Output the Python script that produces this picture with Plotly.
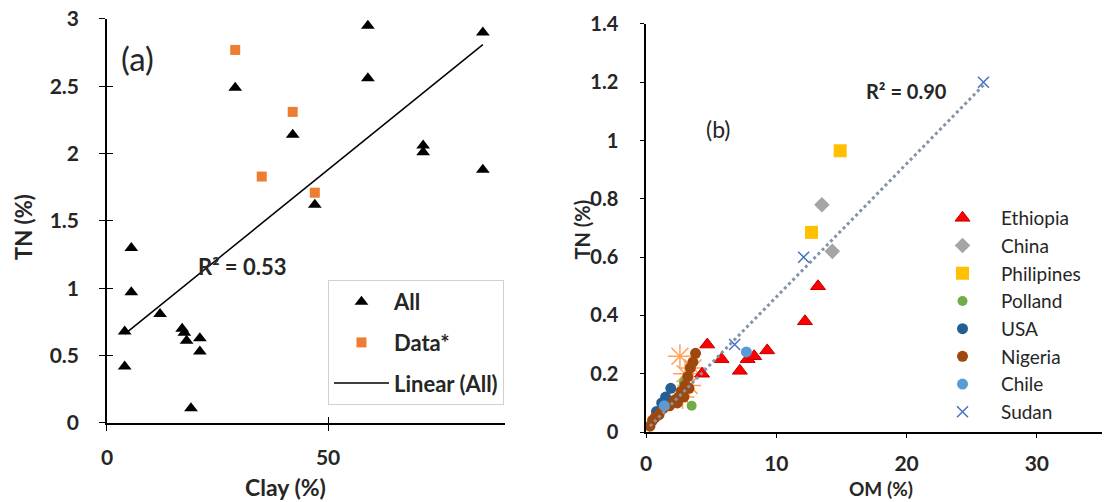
import plotly.graph_objects as go

# ---------------- Panel (a) data ----------------
all_clay = [4, 4, 5.5, 5.5, 12, 17, 17.5, 18, 21, 21, 19, 29, 42, 47, 59, 59, 71.5, 71.5, 85, 85]
all_tn = [0.68, 0.42, 1.30, 0.97, 0.81, 0.70, 0.67, 0.61, 0.63, 0.53, 0.11, 2.49, 2.14, 1.62, 2.95, 2.56, 2.06, 2.01, 2.90, 1.88]
star_clay = [29, 42, 35, 47]
star_tn = [2.77, 2.31, 1.83, 1.71]
fit_a_x = [4, 85]
fit_a_y = [0.66, 2.81]
r2_a = "R² = 0.53"

# ---------------- Panel (b) data ----------------
eth_om = [4.3, 4.7, 5.8, 7.2, 7.8, 8.3, 9.3, 12.2, 13.2]
eth_tn = [0.20, 0.30, 0.25, 0.21, 0.25, 0.26, 0.28, 0.38, 0.50]
chn_om = [13.5, 14.3]
chn_tn = [0.78, 0.62]
phl_om = [12.7, 14.9]
phl_tn = [0.685, 0.965]
pol_om = [2.9, 3.4, 3.5]
pol_tn = [0.17, 0.22, 0.09]
usa_om = [0.8, 1.2, 1.5, 1.9]
usa_tn = [0.07, 0.10, 0.12, 0.15]
nga_om = [0.3, 0.5, 0.7, 1.0, 1.3, 1.8, 2.2, 2.5, 2.7, 3.0, 3.2, 3.4, 3.6, 3.8, 2.4, 2.9, 3.3]
nga_tn = [0.02, 0.04, 0.05, 0.06, 0.08, 0.09, 0.11, 0.12, 0.14, 0.16, 0.19, 0.22, 0.24, 0.27, 0.10, 0.12, 0.15]
chl_om = [1.4, 7.7]
chl_tn = [0.09, 0.275]
sdn_om = [6.8, 12.1, 25.9]
sdn_tn = [0.30, 0.60, 1.20]
oth_om = [2.6, 3.0, 3.3, 2.8, 3.6]
oth_tn = [0.26, 0.20, 0.16, 0.12, 0.22]
fit_b_x = [0.3, 25.9]
fit_b_y = [0.02, 1.19]
r2_b = "R² = 0.90"

FONT = "Lato"
TXT = "#262626"

fig = go.Figure()

# panel (a)
fig.add_trace(go.Scatter(x=all_clay, y=all_tn, mode="markers", name="All",
                         marker=dict(symbol="triangle-up", size=12, color="black"),
                         xaxis="x", yaxis="y", legend="legend", legendgroup="a1"))
fig.add_trace(go.Scatter(x=star_clay, y=star_tn, mode="markers", name="Data*",
                         marker=dict(symbol="square", size=10, color="#ed7d31"),
                         xaxis="x", yaxis="y", legend="legend", legendgroup="a2"))
fig.add_trace(go.Scatter(x=fit_a_x, y=fit_a_y, mode="lines", name="Linear (All)",
                         line=dict(color="black", width=1.5),
                         xaxis="x", yaxis="y", legend="legend", legendgroup="a3"))
# invisible trace on overlay axes for cross ticks
fig.add_trace(go.Scatter(x=all_clay, y=all_tn, mode="markers", marker=dict(opacity=0),
                         showlegend=False, hoverinfo="skip", xaxis="x3", yaxis="y3"))

# panel (b)
series_b = [
    ("Ethiopia", eth_om, eth_tn, dict(symbol="triangle-up", size=13, color="#ff0000",
                                       line=dict(color="#c00000", width=1))),
    ("China", chn_om, chn_tn, dict(symbol="diamond", size=12, color="#a5a5a5")),
    ("Philipines", phl_om, phl_tn, dict(symbol="square", size=13, color="#ffc000")),
    ("Polland", pol_om, pol_tn, dict(symbol="circle", size=10, color="#70ad47")),
    ("USA", usa_om, usa_tn, dict(symbol="circle", size=11, color="#255e91")),
    ("Nigeria", nga_om, nga_tn, dict(symbol="circle", size=11, color="#9e480e")),
    ("Chile", chl_om, chl_tn, dict(symbol="circle", size=11, color="#5b9bd5")),
    ("Sudan", sdn_om, sdn_tn, dict(symbol="x-thin", size=11, color="#4472c4",
                                    line=dict(color="#4472c4", width=1.5))),
]
fig.add_trace(go.Scatter(x=oth_om, y=oth_tn, mode="markers", showlegend=False,
                         marker=dict(symbol="asterisk-open", size=20,
                                     line=dict(color="#a8741e", width=1.5)),
                         xaxis="x2", yaxis="y2"))
for i, (nm, xs, ys, mk) in enumerate(series_b):
    fig.add_trace(go.Scatter(x=xs, y=ys, mode="markers", name=nm, marker=mk,
                             xaxis="x2", yaxis="y2", legend="legend2", legendgroup="b%d" % i))
fig.add_trace(go.Scatter(x=fit_b_x, y=fit_b_y, mode="lines", showlegend=False,
                         line=dict(color="#8592a8", width=3, dash="dot"),
                         xaxis="x2", yaxis="y2"))

axis_common = dict(showline=True, linecolor="black", linewidth=1.5, showgrid=False,
                   zeroline=False, ticks="outside", ticklen=6, tickcolor="black",
                   tickwidth=1.2, automargin=False,
                   tickfont=dict(family=FONT, size=21, color=TXT, weight=700))
overlay_common = dict(showticklabels=False, showline=False, showgrid=False, zeroline=False,
                      ticks="inside", ticklen=6, tickcolor="black", tickwidth=1.2,
                      automargin=False)

def ann(text, x, y, xref, yref, size, bold=True, angle=0):
    return dict(text=text, x=x, y=y, xref=xref, yref=yref, showarrow=False,
                xanchor="center", yanchor="middle", textangle=angle,
                font=dict(family=FONT, size=size, color=TXT,
                          weight=700 if bold else 400))

fig.update_layout(
    width=1111, height=502,
    margin=dict(l=0, r=0, t=0, b=0, autoexpand=False),
    paper_bgcolor="white", plot_bgcolor="white",
    showlegend=True,
    xaxis=dict(domain=[0.0963, 0.4545], range=[0, 90], tickvals=[0, 50], anchor="y",
               ticklabelstandoff=9, **axis_common),
    yaxis=dict(domain=[0.1574, 0.9622], range=[0, 3], tickvals=[0, 0.5, 1, 1.5, 2, 2.5, 3],
               ticktext=["0", "0.5", "1", "1.5", "2", "2.5", "3"], anchor="x",
               ticklabelstandoff=16, **axis_common),
    xaxis3=dict(overlaying="x", range=[0, 90], tickvals=[0, 50], anchor="y3", **overlay_common),
    yaxis3=dict(overlaying="y", range=[0, 3], tickvals=[0, 0.5, 1, 1.5, 2, 2.5, 3], anchor="x3",
                **overlay_common),
    xaxis2=dict(domain=[0.5815, 0.9919], range=[0, 35], tickvals=[0, 10, 20, 30], anchor="y2",
                ticklabelstandoff=8, **{**axis_common, "ticklen": 4}),
    yaxis2=dict(domain=[0.1394, 0.9522], range=[0, 1.4],
                tickvals=[0, 0.2, 0.4, 0.6, 0.8, 1, 1.2, 1.4],
                ticktext=["0", "0.2", "0.4", "0.6", "0.8", "1", "1.2", "1.4"], anchor="x2",
                ticklabelstandoff=18, **{**axis_common, "ticklen": 4, "tickfont": dict(family=FONT, size=20, color=TXT, weight=700)}),
    legend=dict(x=0.2952, y=0.4422, xanchor="left", yanchor="top",
                bordercolor="#d0d0d0", borderwidth=1, bgcolor="white",
                font=dict(family=FONT, size=22, color=TXT, weight=700),
                tracegroupgap=9, itemwidth=55),
    legend2=dict(x=0.8317, y=0.6036, xanchor="left", yanchor="top",
                 bgcolor="rgba(0,0,0,0)", borderwidth=0,
                 font=dict(family=FONT, size=19, color=TXT),
                 tracegroupgap=0, itemwidth=67),
    annotations=[
        ann("(a)", 6.8, 2.71, "x", "y", 33, bold=False),
        ann(r2_a, 30.5, 1.16, "x", "y", 22),
        ann("(b)", 5.6, 1.04, "x2", "y2", 23, bold=False),
        ann(r2_b, 20.0, 1.17, "x2", "y2", 20),
        ann("TN (%)", 0.0216, 0.548, "paper", "paper", 22, angle=-90),
        ann("Clay (%)", 0.2574, 0.0299, "paper", "paper", 23),
        ann("TN (%)", 0.5235, 0.542, "paper", "paper", 20, angle=-90),
        ann("OM (%)", 0.793, 0.027, "paper", "paper", 19),
    ],
)

fig.write_html("out.html", config={"displayModeBar": False},
               post_script="document.body.style.margin='0';document.body.style.overflow='hidden';")
